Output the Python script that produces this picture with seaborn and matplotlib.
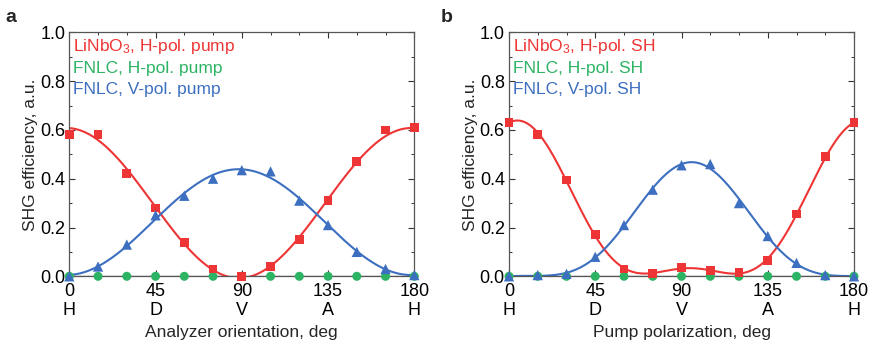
import numpy as np
import pandas as pd
import matplotlib
matplotlib.use("Agg")
import matplotlib.pyplot as plt
import seaborn as sns
from matplotlib.ticker import MultipleLocator

# ---------------- data ----------------
angles = [0, 15, 30, 45, 60, 75, 90, 105, 120, 135, 150, 165, 180]
xtick_vals = [0, 45, 90, 135, 180]
xtick_labels = ["0\nH", "45\nD", "90\nV", "135\nA", "180\nH"]

# panel a: analyzer orientation
a_red = [0.58, 0.58, 0.42, 0.28, 0.14, 0.03, 0.0, 0.04, 0.15, 0.31, 0.47, 0.60, 0.61]
a_green = [0.0, 0.0, 0.0, 0.0, 0.0, 0.0, 0.0, 0.0, 0.0, 0.0, 0.0, 0.0, 0.0]
a_blue = [0.0, 0.04, 0.13, 0.25, 0.33, 0.40, 0.435, 0.43, 0.31, 0.21, 0.10, 0.03, 0.005]

# panel b: pump polarization
b_red = [0.63, 0.58, 0.395, 0.17, 0.03, 0.01, 0.035, 0.025, 0.015, 0.065, 0.255, 0.49, 0.63]
b_green = [0.0, 0.0, 0.0, 0.0, 0.0, 0.0, 0.0, 0.0, 0.0, 0.0, 0.0, 0.0, 0.0]
b_blue = [0.0, 0.005, 0.01, 0.08, 0.21, 0.355, 0.455, 0.46, 0.30, 0.165, 0.055, 0.005, 0.0]

a_labels = ["LiNbO$_3$, H-pol. pump", "FNLC, H-pol. pump", "FNLC, V-pol. pump"]
b_labels = ["LiNbO$_3$, H-pol. SH", "FNLC, H-pol. SH", "FNLC, V-pol. SH"]
a_xlabel = "Analyzer orientation, deg"
b_xlabel = "Pump polarization, deg"
ylabel = "SHG efficiency, a.u."

RED = "#EE3535"
GREEN = "#2DB364"
BLUE = "#3C6FC0"

# ---------------- helpers ----------------
def fourier_fit(x, y, order):
    """Least-squares fit of a 180-deg periodic Fourier series to the data."""
    t = np.deg2rad(np.asarray(x, float)) * 2
    cols = [np.ones_like(t)]
    for k in range(1, order + 1):
        cols += [np.cos(k * t), np.sin(k * t)]
    A = np.column_stack(cols)
    coef, *_ = np.linalg.lstsq(A, np.asarray(y, float), rcond=None)
    xf = np.linspace(0, 180, 400)
    tf = np.deg2rad(xf) * 2
    cf = [np.ones_like(tf)]
    for k in range(1, order + 1):
        cf += [np.cos(k * tf), np.sin(k * tf)]
    return xf, np.column_stack(cf) @ coef


sns.set_theme(style="ticks")
plt.rcParams["font.family"] = ["Liberation Sans", "DejaVu Sans"]
plt.rcParams["mathtext.fontset"] = "custom"
plt.rcParams["mathtext.rm"] = "Liberation Sans"
plt.rcParams["mathtext.it"] = "Liberation Sans"

fig = plt.figure(figsize=(8.72, 3.48), dpi=100)
ax_a = fig.add_axes([69.3 / 872, 1 - 276.3 / 348, (414.3 - 69.3) / 872, (276.3 - 32.3) / 348])
ax_b = fig.add_axes([509 / 872, 1 - 276.3 / 348, (854 - 509) / 872, (276.3 - 32.3) / 348])


def draw(ax, red, green, blue, labels, xlabel, red_order, blue_order):
    # fitted curves
    for y, c, order in [(red, RED, red_order), (blue, BLUE, blue_order)]:
        xf, yf = fourier_fit(angles, y, order)
        sns.lineplot(x=xf, y=yf, ax=ax, color=c, lw=1.5, zorder=2)
    sns.lineplot(x=[0, 180], y=[0, 0], ax=ax, color="#808080", lw=1.0, zorder=1)
    # data points
    sns.scatterplot(x=angles, y=green, ax=ax, color=GREEN, marker="o", s=42,
                    edgecolor="none", zorder=3, clip_on=False)
    sns.scatterplot(x=angles, y=red, ax=ax, color=RED, marker="s", s=40,
                    edgecolor="none", zorder=4, clip_on=False)
    sns.scatterplot(x=angles, y=blue, ax=ax, color=BLUE, marker="^", s=55,
                    edgecolor="none", zorder=5, clip_on=False)

    ax.set_xlim(0, 180)
    ax.set_ylim(0, 1.0)
    ax.set_xticks(xtick_vals)
    ax.set_xticklabels(xtick_labels, linespacing=1.15)
    ax.xaxis.set_minor_locator(MultipleLocator(15))
    ax.set_yticks([0, 0.2, 0.4, 0.6, 0.8, 1.0])
    ax.set_yticklabels(["0.0", "0.2", "0.4", "0.6", "0.8", "1.0"])
    ax.yaxis.set_minor_locator(MultipleLocator(0.1))
    ax.tick_params(which="both", direction="in", top=True, right=True,
                   labelsize=13, colors="#333333", labelcolor="black")
    ax.tick_params(which="major", length=4, width=0.8)
    ax.tick_params(axis="x", which="major", pad=5)
    ax.tick_params(axis="y", which="major", pad=3)
    ax.tick_params(which="minor", length=2.5, width=0.7)
    for sp in ax.spines.values():
        sp.set_color("#555555")
        sp.set_linewidth(0.9)
    ax.set_xlabel(xlabel, fontsize=12.5, labelpad=4)
    ax.set_ylabel(ylabel, fontsize=12.5, labelpad=1.5)

    for i, (lab, c) in enumerate(zip(labels, [RED, GREEN, BLUE])):
        ax.text(0.012, 0.941 - i * 0.0885, lab, color=c, fontsize=12.5,
                transform=ax.transAxes, ha="left", va="center")


draw(ax_a, a_red, a_green, a_blue, a_labels, a_xlabel, 1, 1)
draw(ax_b, b_red, b_green, b_blue, b_labels, b_xlabel, 2, 2)

fig.text(5 / 872, 1 - 17 / 348, "a", fontsize=14, fontweight="bold", va="center")
fig.text(441 / 872, 1 - 17 / 348, "b", fontsize=14, fontweight="bold", va="center")

fig.savefig("out.png", dpi=100)
